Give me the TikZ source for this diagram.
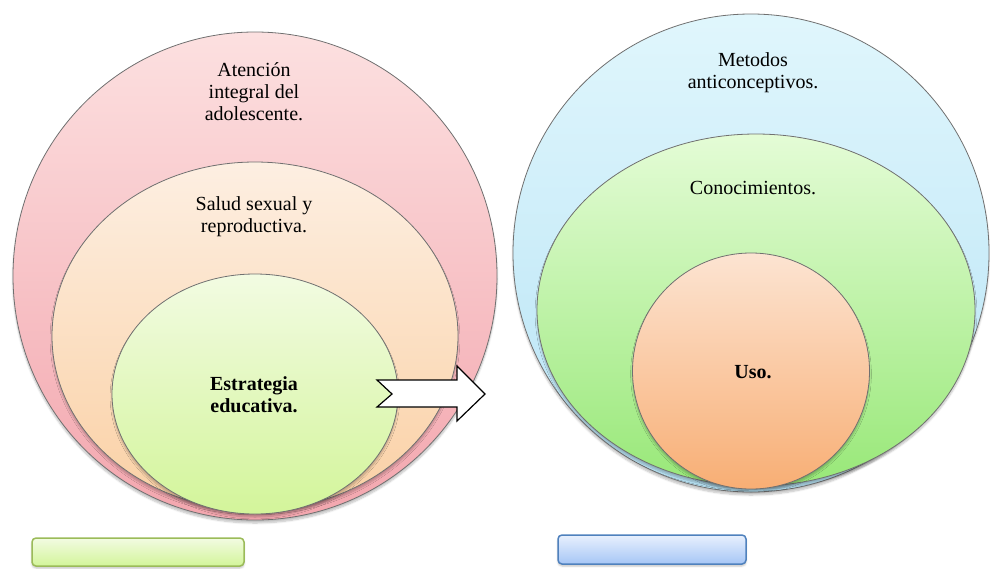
\documentclass[tikz,border=0pt]{standalone}
\usepackage{fontspec}
\setmainfont{Liberation Serif}
\usetikzlibrary{shapes.geometric,shadows.blur}
\definecolor{pinkT}{HTML}{FCE0E0}
\definecolor{pinkB}{HTML}{F3A6AE}
\definecolor{peachT}{HTML}{FDEFE2}
\definecolor{peachB}{HTML}{FAD0A4}
\definecolor{lgreenT}{HTML}{F2FBE2}
\definecolor{lgreenB}{HTML}{D3F59A}
\definecolor{blueT}{HTML}{E0F6FC}
\definecolor{blueB}{HTML}{B8E4F6}
\definecolor{rgreenT}{HTML}{E4FCD6}
\definecolor{rgreenB}{HTML}{98E878}
\definecolor{orangeT}{HTML}{FCE4D2}
\definecolor{orangeB}{HTML}{F8AE74}
\definecolor{edge}{HTML}{707070}
\definecolor{boxgreen}{HTML}{9BBB59}
\definecolor{boxblue}{HTML}{4F81BD}
\definecolor{tagblueT}{HTML}{E8F0FD}
\definecolor{tagblueB}{HTML}{A6C6F6}
\begin{document}
\begin{tikzpicture}[x=1pt,y=-1pt,
  ring/.style={ellipse, draw=edge, line width=0.8pt, inner sep=0pt,
    blur shadow={shadow xshift=0pt, shadow yshift=-3pt, shadow opacity=25, shadow blur steps=6}},
  lbl/.style={align=center, font=\fontsize{20}{22}\selectfont, inner sep=0pt},
  tag/.style={rounded corners=4pt, line width=1.5pt, inner sep=0pt,
    blur shadow={shadow xshift=0pt, shadow yshift=-2pt, shadow opacity=25}}]
\useasboundingbox (0,0) rectangle (990,568);
% left group
\node[ring, top color=pinkT, bottom color=pinkB, minimum width=484pt, minimum height=488pt] (atencion) at (255,276) {};
\node[ring, top color=peachT, bottom color=peachB, minimum width=406pt, minimum height=348pt] (salud) at (255,336) {};
\node[ring, top color=lgreenT, bottom color=lgreenB, minimum width=286pt, minimum height=240pt] (estrategia) at (255,394) {};
\node[lbl] (tA) at (254,92) {Atención\\integral del\\adolescente.};
\node[lbl] (tS) at (254,217) {Salud sexual y\\reproductiva.};
\node[lbl, font=\fontsize{20}{22}\selectfont\bfseries] (tE) at (254,395) {Estrategia\\educativa.};
% block arrow
\draw[fill=white, draw=black, line width=1.2pt, line join=miter]
  (377,380) -- (457,380) -- (457,366) -- (485,394) -- (457,421) -- (457,407) -- (377,407) -- (392,394) -- cycle;
% right group
\node[ring, top color=blueT, bottom color=blueB, minimum width=476pt, minimum height=478pt] (metodos) at (751,253) {};
\node[ring, top color=rgreenT, bottom color=rgreenB, minimum width=438pt, minimum height=352pt] (conoc) at (756,310) {};
\node[ring, top color=orangeT, bottom color=orangeB, minimum width=237pt, minimum height=236pt] (uso) at (751,371) {};
\node[lbl] (tM) at (753,73) {Metodos\\anticonceptivos.};
\node[lbl] (tC) at (753,188) {Conocimientos.};
\node[lbl, font=\fontsize{20}{22}\selectfont\bfseries] (tU) at (753,372) {Uso.};
% bottom tags
\node[tag, draw=boxgreen, top color=lgreenT, bottom color=lgreenB, minimum width=212pt, minimum height=28pt] (tag1) at (138,552) {};
\node[tag, draw=boxblue, top color=tagblueT, bottom color=tagblueB, minimum width=188pt, minimum height=29pt] (tag2) at (652,549.5) {};
\end{tikzpicture}
\end{document}
